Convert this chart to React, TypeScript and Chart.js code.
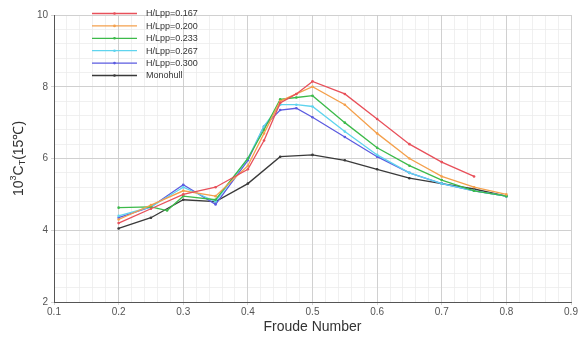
import React, { useEffect, useRef } from "react";
import { Chart, registerables } from "chart.js";

Chart.register(...registerables);

const seriesNames = ["H/Lpp=0.167", "H/Lpp=0.200", "H/Lpp=0.233", "H/Lpp=0.267", "H/Lpp=0.300", "Monohull"];
const seriesColors = ["#e8505a", "#f4a04c", "#3cba4a", "#5fd4ee", "#5b5be0", "#3a3a3a"];

const xRed = [0.2, 0.25, 0.3, 0.35, 0.4, 0.425, 0.45, 0.475, 0.5, 0.55, 0.6, 0.65, 0.7, 0.75];
const yRed = [4.2, 4.6, 5.0, 5.2, 5.7, 6.5, 7.55, 7.8, 8.15, 7.8, 7.1, 6.4, 5.9, 5.5];

const xOrange = [0.2, 0.25, 0.3, 0.35, 0.4, 0.425, 0.45, 0.475, 0.5, 0.55, 0.6, 0.65, 0.7, 0.75, 0.8];
const yOrange = [4.3, 4.7, 5.1, 4.95, 5.8, 6.7, 7.6, 7.8, 8.0, 7.5, 6.7, 6.0, 5.5, 5.2, 5.0];

const xGreen = [0.2, 0.25, 0.275, 0.3, 0.35, 0.4, 0.425, 0.45, 0.475, 0.5, 0.55, 0.6, 0.65, 0.7, 0.75, 0.8];
const yGreen = [4.63, 4.65, 4.55, 4.95, 4.85, 6.0, 6.8, 7.65, 7.7, 7.75, 7.0, 6.3, 5.8, 5.4, 5.1, 4.95];

const xCyan = [0.2, 0.25, 0.3, 0.35, 0.4, 0.425, 0.45, 0.475, 0.5, 0.55, 0.6, 0.65, 0.7, 0.75, 0.8];
const yCyan = [4.4, 4.65, 5.2, 4.8, 6.0, 6.9, 7.5, 7.5, 7.45, 6.75, 6.1, 5.6, 5.3, 5.1, 4.95];

const xBlue = [0.2, 0.25, 0.3, 0.35, 0.4, 0.425, 0.45, 0.475, 0.5, 0.55, 0.6, 0.65, 0.7, 0.75, 0.8];
const yBlue = [4.35, 4.65, 5.27, 4.72, 5.95, 6.9, 7.35, 7.4, 7.15, 6.6, 6.05, 5.6, 5.3, 5.1, 4.95];

const xMono = [0.2, 0.25, 0.3, 0.35, 0.4, 0.45, 0.5, 0.55, 0.6, 0.65, 0.7, 0.75, 0.8];
const yMono = [4.05, 4.35, 4.85, 4.8, 5.3, 6.05, 6.1, 5.95, 5.7, 5.45, 5.3, 5.15, 4.95];

const xTicks = [0.1, 0.2, 0.3, 0.4, 0.5, 0.6, 0.7, 0.8, 0.9];
const yTicks = [2, 4, 6, 8, 10];

const allX = [xRed, xOrange, xGreen, xCyan, xBlue, xMono];
const allY = [yRed, yOrange, yGreen, yCyan, yBlue, yMono];

const FONT = "'Liberation Sans', Arial, sans-serif";

const legendPlugin = {
  id: "insideLegend",
  afterDatasetsDraw(chart: any) {
    const ctx = chart.ctx;
    const area = chart.chartArea;
    ctx.save();
    ctx.font = `9px ${FONT}`;
    ctx.textBaseline = "middle";
    seriesNames.forEach((name, i) => {
      const y = area.top - 1.5 + i * 12.4;
      const x0 = area.left + 38;
      const x1 = area.left + 83;
      ctx.strokeStyle = seriesColors[i];
      ctx.lineWidth = 1.3;
      ctx.beginPath();
      ctx.moveTo(x0, y);
      ctx.lineTo(x1, y);
      ctx.stroke();
      ctx.fillStyle = seriesColors[i];
      ctx.beginPath();
      ctx.arc((x0 + x1) / 2, y, 1.3, 0, Math.PI * 2);
      ctx.fill();
      ctx.fillStyle = "#333";
      ctx.fillText(name, area.left + 92, y + 0.5);
    });
    ctx.restore();
  },
};

const yTitlePlugin = {
  id: "yTitle",
  afterDraw(chart: any) {
    const ctx = chart.ctx;
    const area = chart.chartArea;
    ctx.save();
    const cx = 19;
    const cy = (area.top + area.bottom) / 2;
    ctx.translate(cx, cy);
    ctx.rotate(-Math.PI / 2);
    ctx.fillStyle = "#333";
    ctx.textBaseline = "middle";
    const big = `14px ${FONT}`;
    const small = `9px ${FONT}`;
    const parts: [string, string, number][] = [
      ["10", big, 0],
      ["3", small, -5],
      ["C", big, 0],
      ["T", small, 4],
      ["(15\u2103)", big, 0],
    ];
    let total = 0;
    parts.forEach(([t, f]) => {
      ctx.font = f;
      total += ctx.measureText(t).width;
    });
    let x = -total / 2;
    parts.forEach(([t, f, dy]) => {
      ctx.font = f;
      ctx.fillText(t, x, dy);
      x += ctx.measureText(t).width;
    });
    ctx.restore();
  },
};

export default function App() {
  const ref = useRef<HTMLCanvasElement | null>(null);
  useEffect(() => {
    document.body.style.margin = "0";
    const canvas = ref.current;
    if (!canvas) return;
    const datasets = seriesNames.map((name, i) => ({
      label: name,
      data: allX[i].map((x, j) => ({ x, y: allY[i][j] })),
      borderColor: seriesColors[i],
      backgroundColor: seriesColors[i],
      borderWidth: 1.3,
      pointRadius: 1.3,
      pointBorderWidth: 0,
      tension: 0,
      xAxisID: "x",
      yAxisID: "y",
    }));
    const chart = new Chart(canvas, {
      type: "line",
      data: { datasets },
      plugins: [legendPlugin, yTitlePlugin],
      options: {
        animation: false,
        responsive: false,
        maintainAspectRatio: false,
        layout: { padding: { top: 15, right: 16, left: 0, bottom: 0 } },
        plugins: { legend: { display: false }, tooltip: { enabled: false } },
        scales: {
          xm: {
            type: "linear",
            position: "bottom",
            min: 0.1,
            max: 0.9,
            ticks: { display: false, stepSize: 0.02 },
            grid: { color: "#ececec", lineWidth: 0.8, drawTicks: false },
            border: { display: false },
            afterFit: (s: any) => { s.height = 0; },
          },
          ym: {
            type: "linear",
            position: "left",
            min: 2,
            max: 10,
            ticks: { display: false, stepSize: 0.4 },
            grid: { color: "#ececec", lineWidth: 0.8, drawTicks: false },
            border: { display: false },
            afterFit: (s: any) => { s.width = 0; },
          },
          x: {
            type: "linear",
            position: "bottom",
            min: 0.1,
            max: 0.9,
            afterBuildTicks: (s: any) => { s.ticks = xTicks.map((v) => ({ value: v })); },
            ticks: {
              callback: (v: any) => Number(v).toFixed(1),
              color: "#555",
              font: { family: FONT, size: 10 },
              padding: 1,
            },
            grid: { color: "#c9c9c9", lineWidth: 0.8, tickLength: 3 },
            border: { color: "#555", width: 1 },
            title: {
              display: true,
              text: "Froude Number",
              color: "#333",
              font: { family: FONT, size: 14 },
              padding: { top: 0, bottom: 2 },
            },
            afterFit: (s: any) => { s.height = 36; },
          },
          y: {
            type: "linear",
            position: "left",
            min: 2,
            max: 10,
            afterBuildTicks: (s: any) => { s.ticks = yTicks.map((v) => ({ value: v })); },
            ticks: {
              color: "#555",
              font: { family: FONT, size: 10 },
              padding: 3,
            },
            grid: { color: "#c9c9c9", lineWidth: 0.8, tickLength: 3 },
            border: { color: "#555", width: 1 },
            afterFit: (s: any) => { s.width = 54; },
          },
        },
      },
    } as any);
    return () => chart.destroy();
  }, []);
  return (
    <div style={{ width: 587, height: 338, background: "#fff" }}>
      <canvas ref={ref} width={587} height={338} style={{ display: "block" }} />
    </div>
  );
}
